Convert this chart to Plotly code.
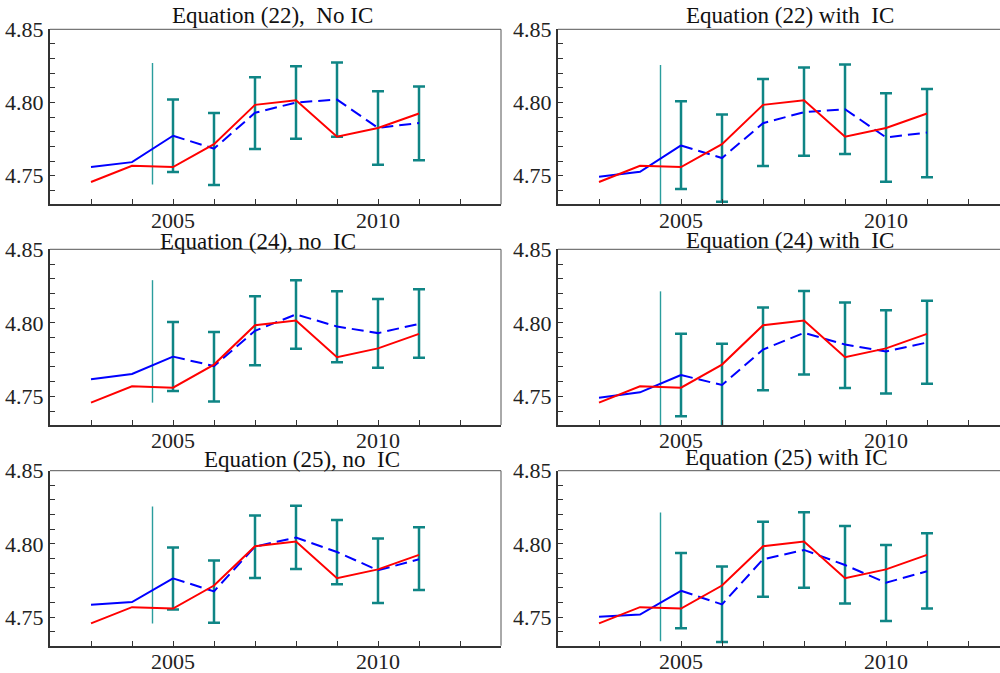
import plotly.graph_objects as go

# Years covered by each panel
years = [2003, 2004, 2005, 2006, 2007, 2008, 2009, 2010, 2011]
forecast_years = [2005, 2006, 2007, 2008, 2009, 2010, 2011]
split_year = 2004.5

# Observed series (same in every panel)
actual = [4.7457, 4.7568, 4.7559, 4.7716, 4.7984, 4.8016, 4.7766, 4.7826, 4.7925]

titles = [
    "Equation (22),\u00a0 No IC",
    "Equation (22) with\u00a0 IC",
    "Equation (24), no\u00a0 IC",
    "Equation (24) with\u00a0 IC",
    "Equation (25), no\u00a0 IC",
    "Equation (25) with IC",
]

# Fitted / forecast values per model
fit_22_noic = [4.7559, 4.7593, 4.7773, 4.7685, 4.7930, 4.8000, 4.8020, 4.7827, 4.7860]
fit_22_ic = [4.7493, 4.7527, 4.7707, 4.7621, 4.7859, 4.7934, 4.7954, 4.7762, 4.7795]
fit_24_noic = [4.7616, 4.7652, 4.7770, 4.7706, 4.7946, 4.8057, 4.7975, 4.7930, 4.7993]
fit_24_ic = [4.7491, 4.7527, 4.7645, 4.7577, 4.7818, 4.7932, 4.7852, 4.7805, 4.7866]
fit_25_noic = [4.7584, 4.7603, 4.7765, 4.7676, 4.7982, 4.8043, 4.7945, 4.7820, 4.7895]
fit_25_ic = [4.7502, 4.7518, 4.7680, 4.7587, 4.7895, 4.7959, 4.7856, 4.7735, 4.7813]

# Forecast interval bounds (2005-2011)
lo_22_noic = [4.7525, 4.7436, 4.7682, 4.7753, 4.7767, 4.7575, 4.7605]
hi_22_noic = [4.8020, 4.7929, 4.8173, 4.8248, 4.8273, 4.8077, 4.8109]
lo_22_ic = [4.7409, 4.7322, 4.7566, 4.7637, 4.7648, 4.7459, 4.7489]
hi_22_ic = [4.8009, 4.7918, 4.8160, 4.8240, 4.8260, 4.8063, 4.8093]
lo_24_noic = [4.7536, 4.7464, 4.7711, 4.7824, 4.7731, 4.7695, 4.7763]
hi_24_noic = [4.8005, 4.7937, 4.8180, 4.8290, 4.8214, 4.8162, 4.8228]
lo_24_ic = [4.7364, 4.7297, 4.7541, 4.7648, 4.7557, 4.7520, 4.7586]
hi_24_ic = [4.7925, 4.7857, 4.8105, 4.8216, 4.8139, 4.8086, 4.8150]
lo_25_noic = [4.7553, 4.7461, 4.7767, 4.7829, 4.7724, 4.7596, 4.7685]
hi_25_noic = [4.7975, 4.7886, 4.8194, 4.8260, 4.8164, 4.8037, 4.8114]
lo_25_ic = [4.7425, 4.7331, 4.7639, 4.7701, 4.7594, 4.7473, 4.7559]
hi_25_ic = [4.7938, 4.7845, 4.8151, 4.8217, 4.8123, 4.7993, 4.8073]

# Extent of the sample-split marker line in each panel
split_lo = [4.7440, 4.7305, 4.7457, 4.7305, 4.7457, 4.7336]
split_hi = [4.8270, 4.8256, 4.8290, 4.8214, 4.8256, 4.8215]

fits = [fit_22_noic, fit_22_ic, fit_24_noic, fit_24_ic, fit_25_noic, fit_25_ic]
los = [lo_22_noic, lo_22_ic, lo_24_noic, lo_24_ic, lo_25_noic, lo_25_ic]
his = [hi_22_noic, hi_22_ic, hi_24_noic, hi_24_ic, hi_25_noic, hi_25_ic]

W, H = 1000, 673
FONT = "Liberation Serif, Times New Roman, serif"
TEAL = "#0f8585"
TEAL_LIGHT = "#2a9d9d"

# Panel frames in pixels: (left, right, top, bottom)
col_px = [(50, 501), (558, 1000)]
row_px = [(29.3, 204.3), (249.3, 425.0), (470.7, 645.7)]
x_ranges = [[2002, 2013], [2002, 2012.78]]
y_range = [4.7305, 4.85]

# Title centres in pixels
title_pos = [(272, 15.5), (790, 15), (258, 241.5), (790, 240.5), (302, 459), (786, 457)]

fig = go.Figure()
shapes = []
annotations = []

for i in range(6):
    r, c = divmod(i, 2)
    n = i + 1
    xa = "x" if n == 1 else f"x{n}"
    ya = "y" if n == 1 else f"y{n}"
    xl = "xaxis" if n == 1 else f"xaxis{n}"
    yl = "yaxis" if n == 1 else f"yaxis{n}"

    fit = fits[i]
    k = years.index(2005)
    err_up = [h - f for h, f in zip(his[i], fit[k:])]
    err_dn = [f - l for l, f in zip(los[i], fit[k:])]

    # sample split marker
    fig.add_trace(go.Scatter(
        x=[split_year, split_year], y=[split_lo[i], split_hi[i]],
        mode="lines", line=dict(color=TEAL_LIGHT, width=1.4),
        xaxis=xa, yaxis=ya, showlegend=False, hoverinfo="skip"))

    # forecast intervals
    fig.add_trace(go.Scatter(
        x=forecast_years, y=fit[k:], mode="markers",
        marker=dict(size=1, color="rgba(0,0,0,0)"),
        error_y=dict(type="data", symmetric=False, array=err_up, arrayminus=err_dn,
                     color=TEAL, thickness=2.5, width=6),
        xaxis=xa, yaxis=ya, showlegend=False, hoverinfo="skip"))

    # in-sample fit (solid) and out-of-sample forecast (dashed)
    fig.add_trace(go.Scatter(
        x=years[:k + 1], y=fit[:k + 1], mode="lines",
        line=dict(color="#0000ff", width=2),
        xaxis=xa, yaxis=ya, showlegend=False))
    fig.add_trace(go.Scatter(
        x=years[k:], y=fit[k:], mode="lines",
        line=dict(color="#0000ff", width=2, dash="12px,6px"),
        xaxis=xa, yaxis=ya, showlegend=False))

    # observed
    fig.add_trace(go.Scatter(
        x=years, y=actual, mode="lines",
        line=dict(color="#ff0000", width=2),
        xaxis=xa, yaxis=ya, showlegend=False))

    left, right = col_px[c]
    top, bottom = row_px[r]
    xdom = [left / W, right / W]
    ydom = [1 - bottom / H, 1 - top / H]

    fig.layout[xl] = dict(
        domain=xdom, range=x_ranges[c], anchor=ya, automargin=False,
        tickmode="array", tickvals=[2005, 2010], ticktext=["2005", "2010"],
        ticks="inside", ticklen=5, tickwidth=1.2, tickcolor="#333",
        minor=dict(dtick=1, tick0=2003, ticks="inside", ticklen=5, tickwidth=1.2,
                   tickcolor="#333", showgrid=False),
        showline=True, linecolor="#333", linewidth=2,
        showgrid=False, zeroline=False, ticklabelstandoff=-5,
        tickfont=dict(family=FONT, size=22, color="#222"),
    )
    fig.layout[yl] = dict(
        domain=ydom, range=y_range, anchor=xa, automargin=False,
        tickmode="array", tickvals=[4.75, 4.80, 4.85], ticktext=["4.75", "4.80", "4.85"],
        ticks="inside", ticklen=5, tickwidth=1.2, tickcolor="#333",
        minor=dict(tickvals=[4.74, 4.76, 4.77, 4.78, 4.79, 4.81, 4.82, 4.83, 4.84],
                   ticks="inside", ticklen=5, tickwidth=1.2, tickcolor="#333",
                   showgrid=False),
        showline=True, linecolor="#333", linewidth=2,
        showgrid=False, zeroline=False,
        tickfont=dict(family=FONT, size=22, color="#222"),
    )

    # thin top and right frame edges
    shapes.append(dict(type="line", xref=f"{xa} domain", yref=f"{ya} domain",
                       x0=0, x1=1, y0=1, y1=1, line=dict(color="#555", width=1)))
    if c == 0:
        shapes.append(dict(type="line", xref=f"{xa} domain", yref=f"{ya} domain",
                           x0=1, x1=1, y0=0, y1=1, line=dict(color="#555", width=1)))

    tx, ty = title_pos[i]
    annotations.append(dict(
        text=titles[i], x=tx / W, y=1 - ty / H, xref="paper", yref="paper",
        xanchor="center", yanchor="middle", showarrow=False,
        font=dict(family=FONT, size=23, color="#111")))

fig.update_layout(
    width=W, height=H,
    margin=dict(l=0, r=0, t=0, b=0, pad=0, autoexpand=False),
    paper_bgcolor="white", plot_bgcolor="white",
    shapes=shapes, annotations=annotations,
    showlegend=False,
)

fig.write_html("out.html")
